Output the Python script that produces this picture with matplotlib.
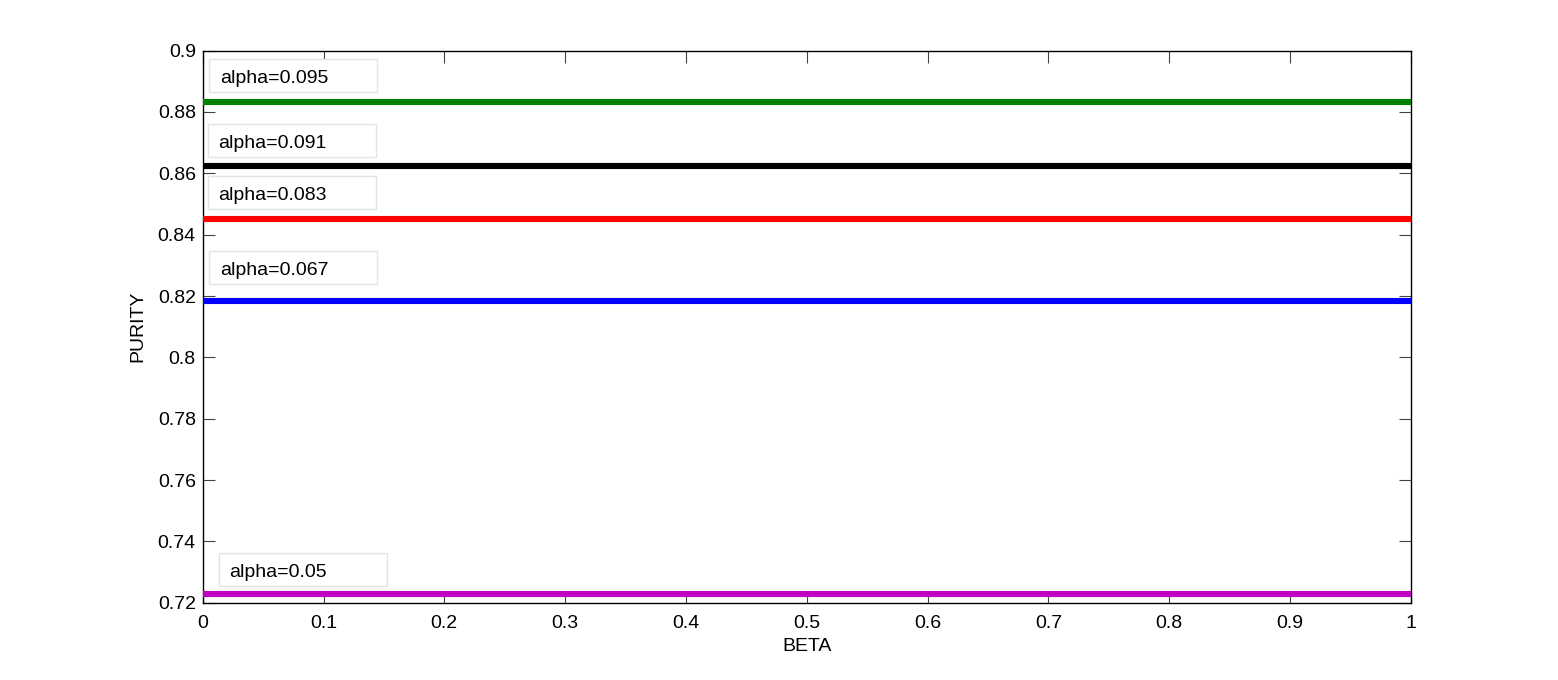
import matplotlib
matplotlib.use("Agg")
import matplotlib.pyplot as plt
from matplotlib.patches import Rectangle

plt.rcParams['font.family'] = ['Liberation Sans', 'DejaVu Sans']

# data
beta = [0.0, 1.0]
alphas = ['0.05', '0.067', '0.083', '0.091', '0.095']
purity = [
    [0.7227, 0.7227],
    [0.8183, 0.8183],
    [0.8450, 0.8450],
    [0.8623, 0.8623],
    [0.8833, 0.8833],
]
colors = ['#bf00bf', '#0000ff', '#ff0000', '#000000', '#008000']

# where each annotation box sits (lower-left corner, data coords)
box_pos = [(0.0132, 0.7254), (0.0055, 0.8238), (0.0041, 0.8483),
           (0.0041, 0.8652), (0.0055, 0.8864)]
box_w, box_h = 0.139, 0.01076

fig = plt.figure(figsize=(15.58, 6.8), dpi=100)
ax = fig.add_axes([0.1301, 0.1137, 0.7754, 0.8118])

for a, y, c, (bx, by) in zip(alphas, purity, colors, box_pos):
    ax.plot(beta, y, color=c, lw=4.4, solid_capstyle='butt', zorder=3)
    ax.add_patch(Rectangle((bx, by), box_w, box_h, facecolor='white',
                           edgecolor='#e4e4e4', lw=1, zorder=4))
    ax.text(bx + 0.009, by + box_h / 2 - 0.001, 'alpha=' + a, fontsize=14,
            va='center', ha='left', zorder=5)

ax.set_xlim(0, 1)
ax.set_ylim(0.72, 0.9)
ax.set_xticks([i / 10 for i in range(11)])
ax.set_xticklabels(['0', '0.1', '0.2', '0.3', '0.4', '0.5', '0.6', '0.7', '0.8', '0.9', '1'])
ax.set_yticks([0.72, 0.74, 0.76, 0.78, 0.8, 0.82, 0.84, 0.86, 0.88, 0.9])
ax.set_yticklabels(['0.72', '0.74', '0.76', '0.78', '0.8', '0.82', '0.84', '0.86', '0.88', '0.9'])
ax.tick_params(direction='in', length=8.6, width=0.8, color='#444444',
               top=True, right=True, labelsize=14)
ax.tick_params(axis='x', pad=9)
ax.tick_params(axis='y', pad=5)
for s in ax.spines.values():
    s.set_linewidth(1.0)

ax.set_xlabel('BETA', fontsize=14, labelpad=4)
ax.set_ylabel('PURITY', fontsize=14, labelpad=8)

fig.savefig('out.png', dpi=100)
